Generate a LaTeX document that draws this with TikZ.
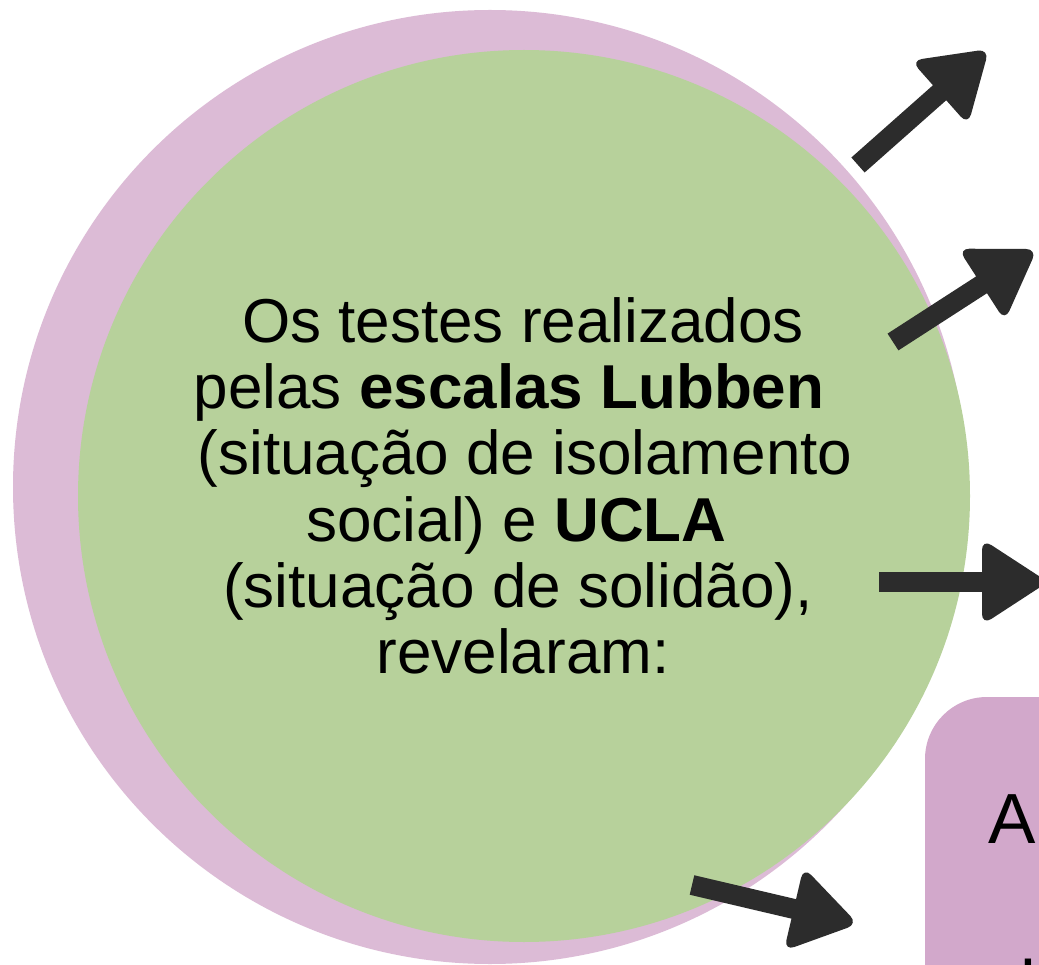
\documentclass[tikz,border=0pt]{standalone}
\usepackage{fontspec}
\setmainfont{Liberation Sans}
\usetikzlibrary{calc}
\definecolor{pinkring}{HTML}{DCBBD6}
\definecolor{greenfill}{HTML}{B7D19B}
\definecolor{boxpink}{HTML}{D2A8CB}
\definecolor{arrowgray}{HTML}{2C2C2C}
\newcommand{\bigarrow}[2]{%
  \coordinate (#2-b) at ($(#2)!66pt!(#1)$);
  \draw[shaft] (#1) -- ($(#2-b)!-2pt!(#1)$);
  \fill[arrowgray, rounded corners=11pt] (#2) -- ($(#2-b)!43pt!90:(#2)$) -- ($(#2-b)!43pt!-90:(#2)$) -- cycle;
}
\tikzset{
  shaft/.style={draw=arrowgray, line width=20pt, line cap=butt},
  maintext/.style={font=\fontsize{62}{66}\selectfont, anchor=base, inner sep=0pt},
  boxtext/.style={font=\fontsize{71}{80}\selectfont, anchor=base, inner sep=0pt},
}
\begin{document}
\begin{tikzpicture}[x=1pt,y=-1pt]
\useasboundingbox (0,0) rectangle (1039,965);
\clip (0,0) rectangle (1039,965);
\fill[white] (0,0) rectangle (1039,965);
% circles
\fill[pinkring] (490,487) circle[radius=477];
\fill[greenfill] (524,496) circle[radius=446];
% box
\fill[boxpink, rounded corners=62pt] (925,697) rectangle (1200,1200);
\node[boxtext] (bA) at (1012,843) {A};
\node[boxtext] (bL) at (1028,1010) {l};
% text
\node[maintext] (t1) at (523,343) {Os testes realizados};
\node[maintext] (t2) at (509,409) {pelas \textbf{escalas Lubben}};
\node[maintext] (t3) at (525,475) {(situação de isolamento};
\node[maintext] (t4) at (516.5,541) {social) e \textbf{UCLA}};
\node[maintext] (t5) at (518,607) {(situação de solidão),};
\node[maintext] (t6) at (523,673) {revelaram:};
% arrows
\coordinate (a1s) at (858,165);
\coordinate (a1t) at (989,49);
\coordinate (a2s) at (893,342);
\coordinate (a2t) at (1037,249);
\coordinate (a3s) at (879,582);
\coordinate (a3t) at (1048,582);
\coordinate (a4s) at (692,885);
\coordinate (a4t) at (858,924);
\bigarrow{a1s}{a1t}
\bigarrow{a2s}{a2t}
\bigarrow{a3s}{a3t}
\bigarrow{a4s}{a4t}
\end{tikzpicture}
\end{document}
